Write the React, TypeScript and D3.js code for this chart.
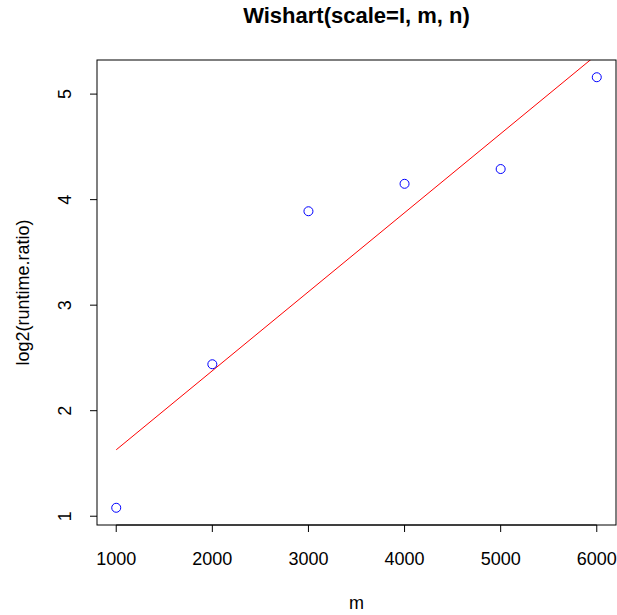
import React from "react";
import * as d3 from "d3";

const mValues = [1000, 2000, 3000, 4000, 5000, 6000];
const logRatio = [1.08, 2.44, 3.89, 4.15, 4.29, 5.16];
const xTicks = [1000, 2000, 3000, 4000, 5000, 6000];
const yTicks = [1, 2, 3, 4, 5];

const W = 617;
const H = 615;
const left = 97;
const right = 616;
const top = 60;
const bottom = 525;
const font = "'Liberation Sans', Arial, sans-serif";

export default function App() {
  // R style 4% axis expansion
  const xr = d3.extent(mValues) as [number, number];
  const yr = d3.extent(logRatio) as [number, number];
  const xPad = (xr[1] - xr[0]) * 0.04;
  const yPad = (yr[1] - yr[0]) * 0.04;
  const x = d3.scaleLinear().domain([xr[0] - xPad, xr[1] + xPad]).range([left, right]);
  const y = d3.scaleLinear().domain([yr[0] - yPad, yr[1] + yPad]).range([bottom, top]);

  // least squares fit, like abline(lm(...))
  const mx = d3.mean(mValues)!;
  const my = d3.mean(logRatio)!;
  const slope =
    d3.sum(mValues, (v, i) => (v - mx) * (logRatio[i] - my)) /
    d3.sum(mValues, (v) => (v - mx) ** 2);
  const icpt = my - slope * mx;
  const fit = d3
    .line<number>()
    .x((v) => x(v))
    .y((v) => y(icpt + slope * v));

  return (
    <svg width={W} height={H} style={{ position: "absolute", left: 0, top: 0 }} fontFamily={font}>
      <defs>
        <clipPath id="plotclip">
          <rect x={left} y={top} width={right - left} height={bottom - top} />
        </clipPath>
      </defs>
      <rect width={W} height={H} fill="white" />
      <text x={(left + right) / 2} y={23} textAnchor="middle" fontSize={22} fontWeight="bold">
        Wishart(scale=I, m, n)
      </text>
      <path
        d={fit([xr[0], xr[1] + 1000]) || ""}
        fill="none"
        stroke="red"
        strokeWidth={1}
        clipPath="url(#plotclip)"
      />
      {mValues.map((v, i) => (
        <circle key={i} cx={x(v)} cy={y(logRatio[i])} r={4.5} fill="none" stroke="blue" strokeWidth={1} />
      ))}
      <rect x={left} y={top} width={right - left} height={bottom - top} fill="none" stroke="black" strokeWidth={1} />
      {/* x axis */}
      <line x1={x(xTicks[0])} x2={x(xTicks[xTicks.length - 1])} y1={bottom} y2={bottom} stroke="black" />
      {xTicks.map((t) => (
        <g key={t}>
          <line x1={x(t)} x2={x(t)} y1={bottom} y2={bottom + 7} stroke="black" />
          <text x={x(t)} y={565} textAnchor="middle" fontSize={18}>
            {t}
          </text>
        </g>
      ))}
      <text x={(left + right) / 2} y={609} textAnchor="middle" fontSize={18}>
        m
      </text>
      {/* y axis */}
      {yTicks.map((t) => (
        <g key={t}>
          <line x1={left - 7} x2={left} y1={y(t)} y2={y(t)} stroke="black" />
          <text transform={`translate(${left - 26},${y(t)}) rotate(-90)`} textAnchor="middle" fontSize={18}>
            {t}
          </text>
        </g>
      ))}
      <text
        transform={`translate(29,${(top + bottom) / 2}) rotate(-90)`}
        textAnchor="middle"
        fontSize={18}
      >
        log2(runtime.ratio)
      </text>
    </svg>
  );
}
